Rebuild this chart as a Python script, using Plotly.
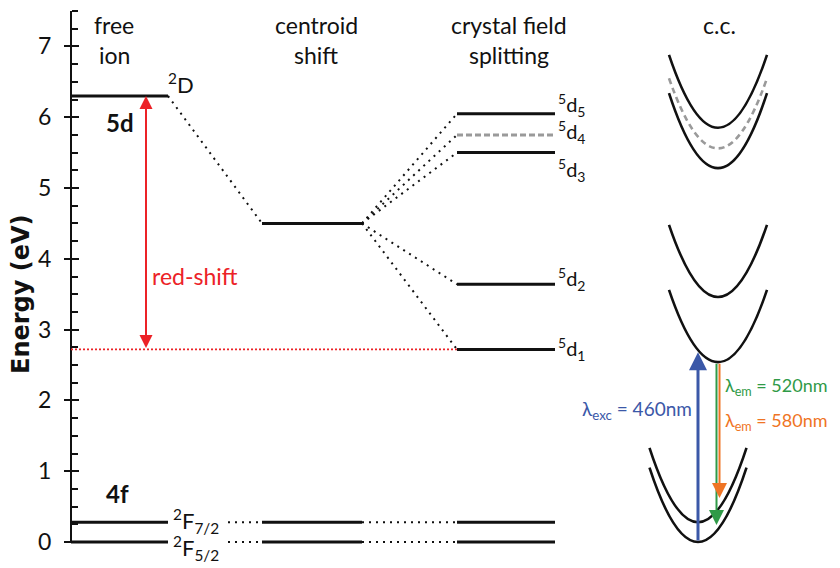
import plotly.graph_objects as go

# ------------------------------------------------------------------ data
free_ion_5d = 6.30                        # 2D free-ion 5d level (eV)
centroid_5d = 4.50                        # after centroid shift
cf_5d = [2.72, 3.64, 5.50, 5.75, 6.05]    # 5d1 .. 5d5 after crystal field splitting
cf_labels = ["<sup>5</sup>d<sub>1</sub>", "<sup>5</sup>d<sub>2</sub>",
             "<sup>5</sup>d<sub>3</sub>", "<sup>5</sup>d<sub>4</sub>",
             "<sup>5</sup>d<sub>5</sub>"]
cf_dashed = [False, False, False, True, False]
f_levels = [0.28, 0.00]                   # 2F7/2, 2F5/2
f_labels = ["<sup>2</sup>F<sub>7/2</sub>", "<sup>2</sup>F<sub>5/2</sub>"]
y_ticks = [0, 1, 2, 3, 4, 5, 6, 7]
y_minor = [q / 4 for q in range(0, 31) if q % 4 != 0]
headers = [["free", "ion"], ["centroid", "shift"], ["crystal field", "splitting"], ["c.c."]]

# configurational-coordinate parabolas (vertex energy, arm-top energy)
cc_vertex = [5.85, 5.56, 5.28, 3.46, 2.54, 0.28, 0.00]
cc_arm = [6.88, 6.55, 6.34, 4.48, 3.56, 1.33, 1.05]
cc_group = ["up", "up", "up", "up", "up", "low", "low"]
cc_dashed = [False, True, False, False, False, False, False]

exc_from, exc_to = 0.00, 2.68             # lambda_exc = 460 nm
em520_from, em520_to = 2.54, 0.24         # lambda_em = 520 nm
em580_from, em580_to = 2.54, 0.62         # lambda_em = 580 nm

# ------------------------------------------------------------------ layout constants
OFF = 8                      # page body margin
SW, SH = 840, 568            # screen size
W, H = SW - OFF, SH - OFF    # figure size
AX_X = 71                    # y-axis position (screen px)
PX0, PXPER = 542, 70.8       # screen row of 0 eV, px per eV
Y_TOP = 7.5
M_T = int(round(PX0 - Y_TOP * PXPER)) - OFF
M_B = 0
Y_MIN = Y_TOP - (H - M_T - M_B) / PXPER

def E(py):  # screen row -> energy (for label placement only)
    return (PX0 - py) / PXPER

COL_FREE = (AX_X, 168)
COL_CEN = (262, 362)
COL_CF = (457, 555)
CC_UP_X, CC_UP_HW = 718, 49
CC_LOW_X, CC_LOW_HW = 698, 48.5

BLACK = "#111111"
RED = "#ec2227"
BLUE = "#3b58a8"
GREEN = "#2f9a47"
ORANGE = "#ef7424"
GRAY = "#9a9a9a"
FONT = "Lato, Open Sans, sans-serif"

fig = go.Figure()

def seg(x, y, color=BLACK, width=3, dash="solid", yaxis="y"):
    fig.add_trace(go.Scatter(x=x, y=y, mode="lines", yaxis=yaxis, showlegend=False,
                             hoverinfo="skip",
                             line=dict(color=color, width=width, dash=dash)))

# y axis line
seg([AX_X, AX_X], [0, Y_TOP], width=2)

# free ion levels
seg(list(COL_FREE), [free_ion_5d, free_ion_5d])
for ef in f_levels:
    seg(list(COL_FREE), [ef, ef])
    seg([228, 258], [ef, ef], width=2, dash="2px,5px")
    seg(list(COL_CEN), [ef, ef])
    seg([COL_CEN[1], COL_CF[0]], [ef, ef], width=2, dash="2px,5px")
    seg(list(COL_CF), [ef, ef])

# centroid
seg([COL_FREE[1], COL_CEN[0]], [free_ion_5d, centroid_5d], width=2, dash="2px,5px")
seg(list(COL_CEN), [centroid_5d, centroid_5d])

# crystal field splitting
for e, d in zip(cf_5d, cf_dashed):
    seg([COL_CEN[1], COL_CF[0]], [centroid_5d, e], width=2, dash="2px,5px")
    if d:
        seg(list(COL_CF), [e, e], color=GRAY, width=3, dash="6px,3px")
    else:
        seg(list(COL_CF), [e, e])

# red-shift reference line
seg([AX_X, COL_CF[0]], [cf_5d[0], cf_5d[0]], color=RED, width=1.6, dash="2px,2px")

# dummy trace for second (inside-tick) axis
fig.add_trace(go.Scatter(x=[None], y=[None], yaxis="y2", showlegend=False))

# configurational coordinate parabolas as quadratic Bezier paths
shapes = []
for v, a, g, d in zip(cc_vertex, cc_arm, cc_group, cc_dashed):
    cx, hw = (CC_UP_X, CC_UP_HW) if g == "up" else (CC_LOW_X, CC_LOW_HW)
    ctrl = 2 * v - a
    shapes.append(dict(type="path", xref="x", yref="y",
                       path=f"M {cx - hw},{a} Q {cx},{ctrl} {cx + hw},{a}",
                       line=dict(color=GRAY if d else BLACK, width=2.6,
                                 dash="6px,4px" if d else "solid")))

ann = []
def txt(x, y, text, size=23, color=BLACK, xanchor="center", yanchor="middle", family=FONT, angle=0):
    ann.append(dict(x=x, y=y, xref="x", yref="y", text=text, showarrow=False,
                    xanchor=xanchor, yanchor=yanchor, textangle=angle,
                    font=dict(size=size, color=color, family=family)))

# headers
hx = [114, 316, 509, 719]
for x, lines in zip(hx, headers):
    for i, t in enumerate(lines):
        txt(x, E(25 + 30 * i), t, size=23)

txt(21, E(294), "<b>Energy (eV)</b>", size=24, family="DejaVu Sans, sans-serif", angle=-90)
txt(166, free_ion_5d + 0.17, "<sup>2</sup>D", size=22, xanchor="left")
txt(120, free_ion_5d - 0.38, "<b>5d</b>", size=24)
txt(117, f_levels[0] + 0.41, "<b>4f</b>", size=24)
for ef, lab, off in zip(f_levels, f_labels, [0.02, -0.08]):
    txt(171, ef + off, lab, size=22, xanchor="left")
for e, lab, off in zip(cf_5d, cf_labels, [0.0, 0.08, -0.24, 0.04, 0.12]):
    txt(556, e + off, lab, size=20, xanchor="left")
txt(195, E(276), "red-shift", size=23, color=RED)
txt(694, E(410), "λ<sub>exc</sub> = 460nm", size=19, color=BLUE, xanchor="right")
txt(723, E(386), "λ<sub>em</sub> = 520nm", size=18, color=GREEN, xanchor="left")
txt(723, E(421), "λ<sub>em</sub> = 580nm", size=18, color=ORANGE, xanchor="left")

def arrow(x, y0, y1, color, width, size, both=False):
    d = dict(x=x, y=y1, ax=x, ay=y0, xref="x", yref="y", axref="x", ayref="y",
             text="", showarrow=True, arrowhead=2, arrowsize=size, arrowwidth=width,
             arrowcolor=color, standoff=0, startstandoff=0)
    if both:
        d.update(arrowside="end+start", startarrowhead=2, startarrowsize=size)
    ann.append(d)

arrow(146, cf_5d[0], free_ion_5d, RED, 2, 1.3, both=True)
arrow(698, exc_from, exc_to, BLUE, 3, 1.2)
arrow(716.5, em520_from, em520_to, GREEN, 2, 1.5)
arrow(719.5, em580_from, em580_to, ORANGE, 2, 1.5)

fig.update_layout(
    template="none",
    width=W, height=H, autosize=False,
    margin=dict(l=0, r=0, t=M_T, b=M_B, pad=0),
    paper_bgcolor="white", plot_bgcolor="white",
    showlegend=False,
    xaxis=dict(range=[OFF, SW], visible=False, showgrid=False, zeroline=False, automargin=False),
    yaxis=dict(range=[Y_MIN, Y_TOP], anchor="free", position=(AX_X - OFF) / W, side="left",
               showline=False, showgrid=False, zeroline=False, automargin=False,
               tickmode="array", tickvals=y_ticks, ticktext=[str(t) for t in y_ticks],
               ticks="outside", ticklen=7, tickwidth=2, tickcolor=BLACK,
               ticklabelstandoff=8,
               tickfont=dict(size=23, color=BLACK, family=FONT),
               minor=dict(tickmode="array", tickvals=y_minor, ticks="inside",
                          ticklen=6, tickwidth=2, tickcolor=BLACK, showgrid=False)),
    yaxis2=dict(range=[Y_MIN, Y_TOP], overlaying="y", anchor="free", position=(AX_X - OFF) / W,
                side="left", showline=False, showgrid=False, zeroline=False,
                automargin=False, tickmode="array", tickvals=y_ticks,
                ticks="inside", ticklen=7, tickwidth=2, tickcolor=BLACK,
                showticklabels=False),
    shapes=shapes,
    annotations=ann,
)

fig.write_html("out.html")
